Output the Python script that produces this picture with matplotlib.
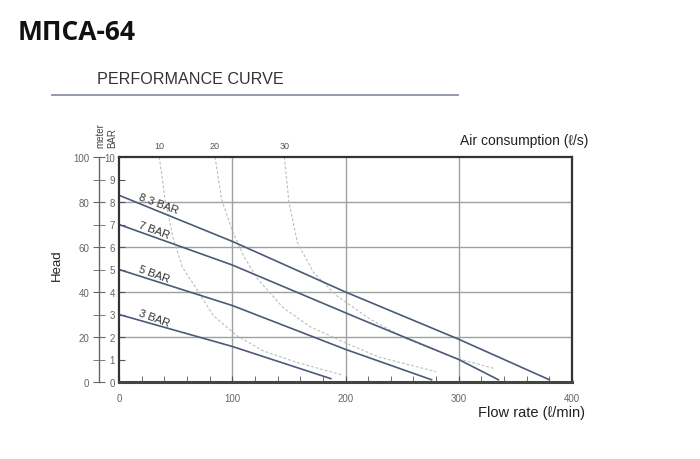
import numpy as np
import matplotlib.pyplot as plt
from matplotlib.ticker import MultipleLocator

plt.rcParams['font.family'] = ['Liberation Sans', 'DejaVu Sans']

# pump curves: flow rate (l/min) vs head (BAR)
flow_83 = [0, 100, 200, 300, 380]
head_83 = [8.3, 6.25, 4.0, 1.9, 0.1]
flow_7 = [0, 100, 213, 300, 335]
head_7 = [7.0, 5.2, 2.8, 1.0, 0.1]
flow_5 = [0, 100, 200, 276]
head_5 = [5.0, 3.4, 1.45, 0.1]
flow_3 = [0, 100, 187]
head_3 = [3.0, 1.58, 0.15]
pressure_labels = ["8.3 BAR", "7 BAR", "5 BAR", "3 BAR"]

# air consumption curves (l/s)
air_labels = ["10", "20", "30"]
air10_x = [35.6, 40.6, 48, 56, 68.6, 83.3, 104, 127, 157, 198]
air10_y = [10, 8.13, 6.36, 5.1, 4.13, 2.95, 2.06, 1.39, 0.87, 0.3]
air20_x = [84.8, 90.7, 99.5, 110, 122, 145, 169, 204, 230, 280]
air20_y = [10, 8.1, 6.8, 5.6, 4.6, 3.3, 2.45, 1.65, 1.1, 0.46]
air30_x = [146, 150, 157.5, 171.6, 192, 221.6, 254, 295, 330.5]
air30_y = [10, 8.0, 6.2, 4.88, 3.84, 2.8, 1.91, 1.1, 0.61]

W, H = 700, 460
fig = plt.figure(figsize=(7, 4.6), dpi=100)
ax = fig.add_axes([119 / W, 1 - 383 / H, (572 - 119) / W, (383 - 158) / H])

line_col = "#4b5a78"
grid_col = "#a0a0a0"
dash_col = "#bdbdbd"

for gx in [100, 200, 300]:
    ax.axvline(gx, color=grid_col, lw=1, zorder=0)
for gy in [2, 4, 6, 8]:
    ax.axhline(gy, color=grid_col, lw=1, zorder=0)

for xs, ys in [(air10_x, air10_y), (air20_x, air20_y), (air30_x, air30_y)]:
    ax.plot(xs, ys, color=dash_col, lw=0.8, linestyle=(0, (2.5, 1.8)), zorder=1)

for xs, ys, lab in zip([air10_x, air20_x, air30_x], [air10_y, air20_y, air30_y], air_labels):
    ax.text(xs[0], 10.5, lab, ha="center", va="center", fontsize=6.5,
            color="#555", clip_on=False)

curves = [(flow_83, head_83), (flow_7, head_7), (flow_5, head_5), (flow_3, head_3)]
for (xs, ys), lab in zip(curves, pressure_labels):
    ax.plot(xs, ys, color=line_col, lw=1.2, zorder=2)
    # label sits just above the line, a little way in from the left
    lx = 16
    ax.text(lx, np.interp(lx, xs, ys) + 0.1, lab, rotation=-20, rotation_mode="anchor",
            ha="left", va="bottom", fontsize=8, color="#333")

ax.set_xlim(0, 400)
ax.set_ylim(0, 10)
ax.xaxis.set_major_locator(MultipleLocator(100))
ax.xaxis.set_minor_locator(MultipleLocator(20))
ax.yaxis.set_major_locator(MultipleLocator(1))
ax.tick_params(axis="x", which="both", direction="in", length=4, pad=8,
               labelsize=7, labelcolor="#666", color="#555")
ax.tick_params(axis="y", direction="in", length=4, pad=3,
               labelsize=7, labelcolor="#666", color="#555")
for side in ["top", "right", "left"]:
    ax.spines[side].set_linewidth(1.6)
    ax.spines[side].set_color("#333")
ax.spines["bottom"].set_linewidth(2.2)
ax.spines["bottom"].set_color("#444")

# head in meters
sec = ax.secondary_yaxis(-20 / 453, functions=(lambda b: b * 10, lambda m: m / 10))
sec.yaxis.set_major_locator(MultipleLocator(20))
sec.yaxis.set_minor_locator(MultipleLocator(10))
sec.tick_params(which="both", direction="inout", length=8, pad=3,
                labelsize=7, labelcolor="#666", color="#666")
sec.spines["left"].set_color("#666")
sec.spines["left"].set_linewidth(1)

fig.text(100.5 / W, 1 - 148 / H, "meter", rotation=90, ha="center", va="bottom",
         fontsize=7, color="#444")
fig.text(112.5 / W, 1 - 148 / H, "BAR", rotation=90, ha="center", va="bottom",
         fontsize=7, color="#444")
fig.text(57 / W, 1 - 265 / H, "Head", rotation=90, ha="center", va="center",
         fontsize=9.5, color="#222")

fig.text(588 / W, 1 - 141 / H, "Air consumption (\u2113/s)", ha="right", va="center",
         fontsize=10, color="#222")
fig.text(585 / W, 1 - 413 / H, "Flow rate (\u2113/min)", ha="right", va="center",
         fontsize=10.5, color="#222")

fig.text(18 / W, 1 - 33 / H, "МПСА-64", ha="left", va="center", fontsize=19,
         fontweight="bold", family=["Open Sans", "DejaVu Sans"], color="#111")
fig.text(97 / W, 1 - 80 / H, "PERFORMANCE CURVE", ha="left", va="center",
         fontsize=11.6, color="#333")
fig.add_artist(plt.Line2D([52 / W, 458 / W], [1 - 96 / H, 1 - 96 / H],
                          color="#8892a6", lw=1.3, transform=fig.transFigure))

fig.savefig("out.png", dpi=100)
